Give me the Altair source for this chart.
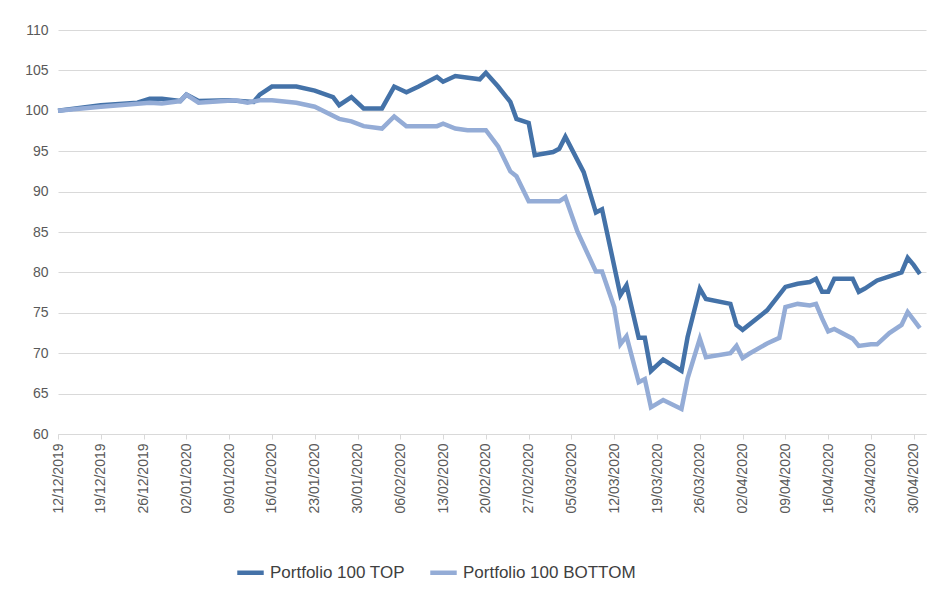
import altair as alt
import pandas as pd

base = pd.Timestamp("2019-12-12")
top_days = [0,7,13,15,17,20,21,23,28,32,33,35,39,42,45,46,48,50,53,55,57,59,62,63,65,69,70,72,74,75,77,78,81,82,83,86,88,89,90,92,93,95,96,97,99,102,103,105,106,110,111,112,116,119,121,123,124,125,126,127,130,131,132,134,138,139,140,141]
top_vals = [100.0,100.7,101.0,101.5,101.5,101.2,102.0,101.2,101.3,101.1,102.0,103.0,103.0,102.5,101.7,100.7,101.7,100.3,100.3,103.0,102.3,103.0,104.2,103.6,104.3,103.9,104.7,103.0,101.1,99.0,98.5,94.5,94.9,95.3,96.8,92.4,87.4,87.8,84.3,77.2,78.4,71.9,71.9,67.8,69.2,67.8,72.0,78.0,76.7,76.1,73.5,72.9,75.3,78.2,78.6,78.8,79.2,77.6,77.6,79.2,79.2,77.6,78.0,79.0,80.0,81.8,80.9,79.8]
bot_days = [0,7,15,17,20,21,23,29,31,33,35,39,42,46,48,50,53,55,57,62,63,65,67,70,72,74,75,77,82,83,85,88,89,91,92,93,95,96,97,99,102,103,105,106,110,111,112,113,116,118,119,121,123,124,125,126,127,130,131,133,134,136,138,139,141]
bot_vals = [100.0,100.5,101.0,100.9,101.2,102.0,101.0,101.3,101.0,101.3,101.3,101.0,100.5,99.0,98.7,98.1,97.8,99.3,98.1,98.1,98.4,97.8,97.6,97.6,95.6,92.5,91.9,88.8,88.8,89.3,85.0,80.1,80.1,75.7,71.1,72.1,66.4,66.8,63.3,64.2,63.1,66.9,71.8,69.5,70.0,70.9,69.4,69.9,71.2,71.9,75.7,76.1,75.9,76.1,74.3,72.7,73.0,71.8,70.9,71.1,71.1,72.5,73.5,75.1,73.1]
series = ["Portfolio 100 TOP", "Portfolio 100 BOTTOM"]

rows = [{"date": base + pd.Timedelta(days=d), "value": v, "series": series[0]} for d, v in zip(top_days, top_vals)]
rows += [{"date": base + pd.Timedelta(days=d), "value": v, "series": series[1]} for d, v in zip(bot_days, bot_vals)]
df = pd.DataFrame(rows)
df["date"] = df["date"].dt.strftime("%Y-%m-%d")

ticks = [(base + pd.Timedelta(days=7 * i)).strftime("%Y-%m-%d") for i in range(21)]

chart = alt.Chart(df).mark_line(strokeWidth=4.5).encode(
    x=alt.X("date:T", title=None,
            scale=alt.Scale(domain=["2019-12-12", "2020-05-02"]),
            axis=alt.Axis(values=ticks, format="%d/%m/%Y", labelAngle=-90, grid=False,
                          labelFontSize=14, labelColor="#595959", domainColor="#d9d9d9",
                          tickColor="#d9d9d9", labelFont="Liberation Sans", labelPadding=4)),
    y=alt.Y("value:Q", title=None, scale=alt.Scale(domain=[60, 110], nice=False, zero=False),
            axis=alt.Axis(values=list(range(60, 111, 5)), gridColor="#d9d9d9", domain=False, ticks=False,
                          labelFontSize=14, labelColor="#595959", labelFont="Liberation Sans", labelPadding=10)),
    color=alt.Color("series:N", title=None,
                    scale=alt.Scale(domain=series, range=["#4472a8", "#94acd6"]),
                    legend=alt.Legend(orient="none", legendX=177, legendY=527, direction="horizontal",
                                      symbolType="stroke", symbolStrokeWidth=4.5, symbolSize=700,
                                      labelFontSize=17, labelColor="#404040", labelFont="Liberation Sans",
                                      columnPadding=16, labelLimit=0)),
    order=alt.Order("date:T"),
).properties(width=868, height=404, padding={"left": 16, "top": 15, "right": 5, "bottom": 5}).configure_view(stroke=None)

chart.save("out.html", embed_options={"renderer": "svg", "actions": False})
